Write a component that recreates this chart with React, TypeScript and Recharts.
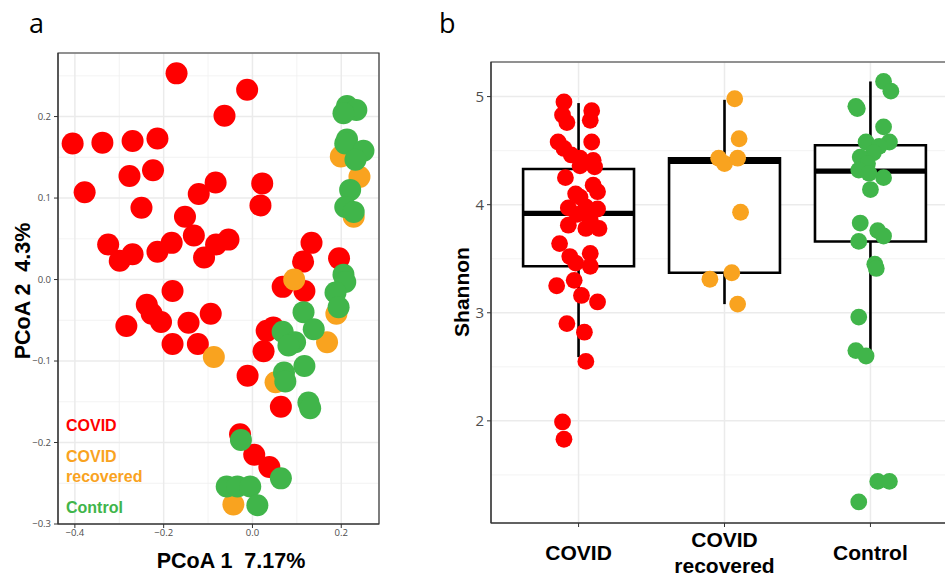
import React from "react";
import {
  CartesianGrid,
  ReferenceArea,
  ReferenceLine,
  Scatter,
  ScatterChart,
  XAxis,
  YAxis,
} from "recharts";

const RED = "#ff0000";
const ORANGE = "#f9a31f";
const GREEN = "#40b54a";

// panel a: PCoA coordinates
const covidPcoa = [
  { x: -0.171, y: 0.253 }, { x: -0.012, y: 0.233 }, { x: -0.063, y: 0.201 },
  { x: -0.405, y: 0.167 }, { x: -0.338, y: 0.168 }, { x: -0.27, y: 0.17 },
  { x: -0.214, y: 0.173 }, { x: -0.378, y: 0.107 }, { x: -0.277, y: 0.127 },
  { x: -0.224, y: 0.134 }, { x: -0.25, y: 0.088 }, { x: -0.121, y: 0.105 },
  { x: -0.083, y: 0.119 }, { x: 0.022, y: 0.118 }, { x: 0.018, y: 0.091 },
  { x: -0.152, y: 0.077 }, { x: -0.132, y: 0.054 }, { x: -0.182, y: 0.045 },
  { x: -0.214, y: 0.034 }, { x: -0.325, y: 0.043 }, { x: -0.299, y: 0.023 },
  { x: -0.27, y: 0.031 }, { x: -0.109, y: 0.027 }, { x: -0.082, y: 0.043 },
  { x: -0.054, y: 0.049 }, { x: 0.133, y: 0.045 }, { x: 0.114, y: 0.022 },
  { x: 0.195, y: 0.026 }, { x: 0.068, y: -0.009 }, { x: 0.117, y: -0.014 },
  { x: -0.18, y: -0.014 }, { x: -0.238, y: -0.031 }, { x: -0.227, y: -0.042 },
  { x: -0.206, y: -0.052 }, { x: -0.284, y: -0.057 }, { x: -0.144, y: -0.053 },
  { x: -0.094, y: -0.042 }, { x: -0.18, y: -0.079 }, { x: -0.123, y: -0.079 },
  { x: 0.047, y: -0.059 }, { x: 0.032, y: -0.063 }, { x: 0.025, y: -0.088 },
  { x: -0.011, y: -0.118 }, { x: 0.064, y: -0.156 }, { x: -0.028, y: -0.19 },
  { x: 0.004, y: -0.215 }, { x: 0.038, y: -0.23 },
];

const recoveredPcoa = [
  { x: 0.094, y: 0.0 }, { x: 0.199, y: 0.151 }, { x: 0.241, y: 0.126 },
  { x: 0.228, y: 0.077 }, { x: 0.189, y: -0.042 }, { x: 0.168, y: -0.077 },
  { x: -0.087, y: -0.095 }, { x: 0.052, y: -0.126 }, { x: -0.043, y: -0.276 },
];

const controlPcoa = [
  { x: 0.213, y: 0.213 }, { x: 0.234, y: 0.208 }, { x: 0.205, y: 0.204 },
  { x: 0.213, y: 0.172 }, { x: 0.209, y: 0.167 }, { x: 0.25, y: 0.158 },
  { x: 0.232, y: 0.147 }, { x: 0.22, y: 0.11 }, { x: 0.209, y: 0.089 },
  { x: 0.228, y: 0.083 }, { x: 0.205, y: 0.006 }, { x: 0.209, y: -0.003 },
  { x: 0.187, y: -0.016 }, { x: 0.194, y: -0.034 }, { x: 0.115, y: -0.04 },
  { x: 0.138, y: -0.061 }, { x: 0.068, y: -0.064 }, { x: 0.096, y: -0.077 },
  { x: 0.081, y: -0.081 }, { x: 0.117, y: -0.106 }, { x: 0.071, y: -0.114 },
  { x: 0.074, y: -0.125 }, { x: 0.126, y: -0.151 }, { x: 0.13, y: -0.158 },
  { x: -0.026, y: -0.197 }, { x: -0.058, y: -0.254 }, { x: -0.034, y: -0.254 },
  { x: -0.005, y: -0.254 }, { x: 0.064, y: -0.244 }, { x: 0.011, y: -0.277 },
];

const pcoaXTicks = [-0.4, -0.2, 0, 0.2];
const pcoaXMinor = [-0.3, -0.1, 0.1];
const pcoaYTicks = [-0.3, -0.2, -0.1, 0, 0.1, 0.2];
const pcoaYMinor = [-0.25, -0.15, -0.05, 0.05, 0.15, 0.25];

// panel b: Shannon diversity per group, with jitter used in the plot
const groupLabels = ["COVID", "COVID\nrecovered", "Control"];

const covidShannon = [
  4.95, 4.83, 4.76, 4.87, 4.78, 4.58, 4.58, 4.52, 4.46, 4.43, 4.41, 4.36, 4.35,
  4.25, 4.18, 4.12, 4.1, 4.07, 3.97, 3.98, 3.96, 3.91, 3.86, 3.81, 3.78, 3.78,
  3.64, 3.52, 3.55, 3.46, 3.43, 3.3, 3.25, 3.16, 3.1, 2.9, 2.82, 2.55, 1.99, 1.83,
];
const covidJitter = [
  -0.1, -0.11, -0.08, 0.09, 0.08, 0.09, -0.14, -0.1, -0.05, 0.01, 0.1, 0.01, 0.11,
  -0.09, 0.1, 0.13, -0.02, 0.01, -0.07, 0.05, 0.13, -0.01, 0.08, -0.07, 0.05, 0.14,
  -0.13, -0.06, 0.08, -0.02, 0.08, -0.03, -0.15, 0.02, 0.13, -0.08, 0.04, 0.05, -0.11, -0.1,
];

const recoveredShannon = [4.98, 4.61, 4.43, 4.38, 4.43, 3.93, 3.37, 3.31, 3.08];
const recoveredJitter = [0.07, 0.1, -0.04, 0.0, 0.09, 0.11, 0.05, -0.1, 0.09];

const controlShannon = [
  5.14, 5.05, 4.91, 4.89, 4.72, 4.58, 4.58, 4.54, 4.48, 4.44, 4.38, 4.32, 4.29,
  4.25, 4.14, 3.83, 3.76, 3.71, 3.66, 3.45, 3.41, 2.96, 2.65, 2.6, 1.44, 1.44, 1.25,
];
const controlJitter = [
  0.09, 0.14, -0.1, -0.09, 0.09, -0.03, 0.13, 0.06, 0.02, -0.07, -0.02, -0.08, -0.01,
  0.09, 0.0, -0.07, 0.05, 0.09, -0.08, 0.03, 0.04, -0.08, -0.1, -0.03, 0.05, 0.13, -0.08,
];

// box stats: [lower whisker, q1, median, q3, upper whisker]
const boxStats = [
  [2.59, 3.43, 3.92, 4.33, 4.94],
  [3.08, 3.37, 4.4, 4.43, 4.97],
  [2.64, 3.66, 4.31, 4.55, 5.14],
];

const shannonTicks = [2, 3, 4, 5];
const shannonMinor = [1.5, 2.5, 3.5, 4.5];

const toPoints = (vals: number[], jit: number[], g: number) =>
  vals.map((v, i) => ({ x: g + jit[i], y: v }));

const fmt = (v: number) => v.toFixed(1).replace("-", "\u2212");

const dot = (color: string, r: number) => (p: any) =>
  <circle cx={p.cx} cy={p.cy} r={r} fill={color} />;

const tickFont = { fontSize: 9.5, fill: "#4d4d4d", fontFamily: "Open Sans" };
const boldFont = "Liberation Sans, Arial, sans-serif";

const GroupTick = (props: any) => {
  const { x, y, payload } = props;
  const lines = groupLabels[payload.value - 1].split("\n");
  const base = lines.length === 1 ? [y + 33] : [y + 20, y + 46];
  return (
    <text textAnchor="middle" fontFamily={boldFont} fontWeight="bold" fontSize={21} fill="#000">
      {lines.map((l, i) => (
        <tspan key={i} x={x} y={base[i]}>{l}</tspan>
      ))}
    </text>
  );
};

export default function App() {
  const xDom = [-0.438, 0.285];
  const yDom = [-0.3, 0.278];
  const sDom = [1.055, 5.32];
  return (
    <div style={{ position: "fixed", left: 0, top: 0, width: 945, height: 576, overflow: "hidden", background: "#fff" }}>
      {/* panel a */}
      <div style={{ position: "absolute", left: 0, top: 0 }}>
        <ScatterChart width={390} height={576} margin={{ top: 53, right: 11, bottom: 0, left: 0 }}>
          <CartesianGrid horizontalValues={pcoaYMinor} verticalValues={pcoaXMinor} stroke="#f0f0f0" strokeWidth={0.8} />
          <CartesianGrid stroke="#ebebeb" strokeWidth={1.5} />
          <XAxis type="number" dataKey="x" domain={xDom} allowDataOverflow ticks={pcoaXTicks} interval={0}
            tickFormatter={fmt} tick={tickFont} height={52} tickSize={4} tickMargin={1}
            stroke="#333" />
          <YAxis type="number" dataKey="y" domain={yDom} allowDataOverflow ticks={pcoaYTicks} interval={0}
            tickFormatter={fmt} tick={tickFont} width={58} tickSize={4} tickMargin={3}
            stroke="#333" />
          <ReferenceArea x1={xDom[0]} x2={xDom[1]} y1={yDom[0]} y2={yDom[1]} fill="none" stroke="#333" strokeWidth={1.2} />
          <Scatter data={covidPcoa} shape={dot(RED, 11)} isAnimationActive={false} />
          <Scatter data={recoveredPcoa} shape={dot(ORANGE, 11)} isAnimationActive={false} />
          <Scatter data={controlPcoa} shape={dot(GREEN, 11)} isAnimationActive={false} />
        </ScatterChart>
      </div>

      {/* panel b */}
      <div style={{ position: "absolute", left: 440, top: 0 }}>
        <ScatterChart width={518} height={576} margin={{ top: 62, right: 0, bottom: 0, left: 0 }}>
          <CartesianGrid horizontalValues={shannonMinor} vertical={false} stroke="#f0f0f0" strokeWidth={0.8} />
          <CartesianGrid stroke="#ebebeb" strokeWidth={1.5} />
          <XAxis type="number" dataKey="x" domain={[0.4, 3.6]} allowDataOverflow ticks={[1, 2, 3]} interval={0}
            tick={<GroupTick />} height={53} tickSize={4} tickMargin={0} stroke="#333" />
          <YAxis type="number" dataKey="y" domain={sDom} allowDataOverflow ticks={shannonTicks} interval={0}
            tick={{ fontSize: 15, fill: "#4d4d4d", fontFamily: "Open Sans" }} width={51} tickSize={4} tickMargin={3}
            stroke="#333" />
          <ReferenceArea x1={0.4} x2={3.6} y1={sDom[0]} y2={sDom[1]} fill="none" stroke="#333" strokeWidth={1.2} />
          {boxStats.map((b, i) => (
            <ReferenceArea key={"box" + i} x1={i + 1 - 0.38} x2={i + 1 + 0.38} y1={b[1]} y2={b[3]}
              fill="#fff" fillOpacity={1} stroke="#000" strokeWidth={2.6} />
          ))}
          {boxStats.map((b, i) => (
            <ReferenceLine key={"wl" + i} segment={[{ x: i + 1, y: b[0] }, { x: i + 1, y: b[1] }]} stroke="#000" strokeWidth={2.6} />
          ))}
          {boxStats.map((b, i) => (
            <ReferenceLine key={"wh" + i} segment={[{ x: i + 1, y: b[3] }, { x: i + 1, y: b[4] }]} stroke="#000" strokeWidth={2.6} />
          ))}
          {boxStats.map((b, i) => (
            <ReferenceLine key={"md" + i} segment={[{ x: i + 1 - 0.38, y: b[2] }, { x: i + 1 + 0.38, y: b[2] }]} stroke="#000" strokeWidth={5.2} />
          ))}
          <Scatter data={toPoints(covidShannon, covidJitter, 1)} shape={dot(RED, 8.4)} isAnimationActive={false} />
          <Scatter data={toPoints(recoveredShannon, recoveredJitter, 2)} shape={dot(ORANGE, 8.4)} isAnimationActive={false} />
          <Scatter data={toPoints(controlShannon, controlJitter, 3)} shape={dot(GREEN, 8.4)} isAnimationActive={false} />
        </ScatterChart>
      </div>

      {/* titles and labels */}
      <svg width={945} height={576} style={{ position: "absolute", left: 0, top: 0, pointerEvents: "none" }}>
        <text x={29} y={33} fontFamily="Open Sans" fontSize={27} fill="#000">a</text>
        <text x={439} y={33} fontFamily="Open Sans" fontSize={27} fill="#000">b</text>
        <text x={231} y={568} textAnchor="middle" fontFamily={boldFont} fontWeight="bold" fontSize={21.5} style={{ whiteSpace: "pre" }}>
          PCoA 1  7.17%
        </text>
        <text x={30} y={291} textAnchor="middle" transform="rotate(-90 30 291)" fontFamily={boldFont} fontWeight="bold" fontSize={21.5} style={{ whiteSpace: "pre" }}>
          PCoA 2  4.3%
        </text>
        <text x={469} y={292} textAnchor="middle" transform="rotate(-90 469 292)" fontFamily={boldFont} fontWeight="bold" fontSize={21} >
          Shannon
        </text>
        <g fontFamily={boldFont} fontWeight="bold" fontSize={16}>
          <text x={66} y={431} fill={RED}>COVID</text>
          <text x={66} y={462} fill={ORANGE}>COVID</text>
          <text x={66} y={482} fill={ORANGE}>recovered</text>
          <text x={66} y={513} fill={GREEN}>Control</text>
        </g>
      </svg>
    </div>
  );
}
